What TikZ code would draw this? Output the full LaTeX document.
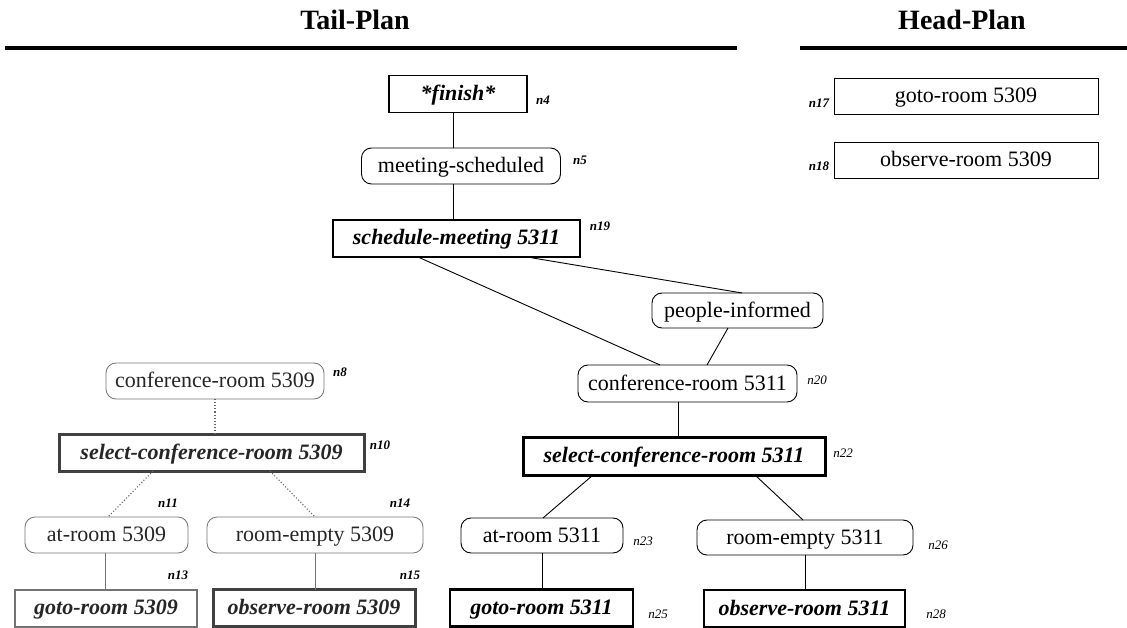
\documentclass[tikz,border=0pt]{standalone}
\usepackage{fontspec}
\setmainfont{Liberation Serif}
\newcommand{\plantxt}{\fontsize{22}{26}\selectfont}
\begin{document}
\begin{tikzpicture}[x=1pt,y=-1pt,
  every node/.style={inner sep=0pt, outer sep=0pt},
  centred/.style={text height=17pt, text depth=4pt},
  act/.style={draw, rectangle, centred, minimum height=37pt, font=\plantxt\bfseries\itshape},
  cond/.style={draw, rectangle, centred, rounded corners=10pt, line width=0.9pt, minimum height=36pt, font=\plantxt},
  headbox/.style={draw, rectangle, centred, line width=0.7pt, minimum height=36pt, font=\plantxt},
  lbl/.style={font=\fontsize{13}{15}\selectfont\bfseries\itshape},
  lbli/.style={font=\fontsize{13}{15}\selectfont\itshape},
  ttl/.style={font=\fontsize{28}{32}\selectfont\bfseries},
  faded/.style={draw=black!55, text=black!85},
  link/.style={line width=0.9pt},
  dlink/.style={dotted, line width=1.1pt, black!60},
  glink/.style={line width=0.8pt, black!55},
  rule/.style={line width=4pt}
]
\useasboundingbox (0,0) rectangle (1127,628);

% titles and rules
\node[ttl] (tailt) at (355,20) {Tail-Plan};
\node[ttl] (headt) at (962,20) {Head-Plan};
\coordinate (tl) at (5,48);
\coordinate (tr) at (737,48);
\coordinate (hl) at (800,48);
\coordinate (hr) at (1127,48);
\draw[rule] (tl) -- (tr);
\draw[rule] (hl) -- (hr);

% head plan
\node[headbox, minimum width=264pt] (n17) at (966,96) {goto-room 5309};
\node[headbox, minimum width=264pt] (n18) at (966,160) {observe-room 5309};
\node[lbl, anchor=east] (l17) at (829,103) {n17};
\node[lbl, anchor=east] (l18) at (829,166) {n18};

% tail plan, main branch
\node[act, line width=1.8pt, minimum width=138pt] (n4) at (458,94) {*finish*};
\node[cond, minimum width=199pt] (n5) at (461,166) {meeting-scheduled};
\node[act, line width=1.8pt, minimum width=247pt] (n19) at (456.5,238.5) {schedule-meeting 5311};
\node[cond, minimum width=171pt, minimum height=35pt] (npi) at (737.5,310.5) {people-informed};
\node[cond, minimum width=219pt, minimum height=37pt] (n20) at (687.5,383.5) {conference-room 5311};
\node[act, line width=3pt, minimum width=302pt, minimum height=38pt] (n22) at (674,456) {select-conference-room 5311};
\node[cond, minimum width=162pt, minimum height=35pt] (n23) at (542,535.5) {at-room 5311};
\node[cond, minimum width=216pt, minimum height=35pt] (n26) at (805,537.5) {room-empty 5311};
\node[act, line width=2.6pt, minimum width=183pt, minimum height=37pt] (n25) at (541.5,608) {goto-room 5311};
\node[act, line width=2.6pt, minimum width=201pt, minimum height=37pt] (n28) at (804.5,608.5) {observe-room 5311};

\node[lbl] (l4) at (543,100) {n4};
\node[lbl] (l5) at (580,160) {n5};
\node[lbl] (l19) at (600,226) {n19};
\node[lbli] (l20) at (817,380) {n20};
\node[lbli] (l22) at (843,453) {n22};
\node[lbli] (l23) at (643,541) {n23};
\node[lbli] (l26) at (938,545) {n26};
\node[lbli] (l25) at (658,614) {n25};
\node[lbli] (l28) at (936,614) {n28};

% tail plan, faded branch
\node[cond, faded, line width=0.8pt, minimum width=218pt] (n8) at (215,381) {conference-room 5309};
\node[act, faded, draw=black!75, line width=3pt, minimum width=305pt, minimum height=37pt] (n10) at (211.5,452.5) {select-conference-room 5309};
\node[cond, faded, line width=0.8pt, minimum width=163pt] (n11) at (106.5,535) {at-room 5309};
\node[cond, faded, line width=0.8pt, minimum width=216pt] (n14) at (315,535) {room-empty 5309};
\node[act, faded, line width=2pt, minimum width=182pt, minimum height=37pt] (n13) at (106,608) {goto-room 5309};
\node[act, faded, draw=black!75, line width=3pt, minimum width=202pt, minimum height=37pt] (n15) at (314,608) {observe-room 5309};

\node[lbl] (l8) at (340,372) {n8};
\node[lbl] (l10) at (380,445) {n10};
\node[lbl] (l11) at (168,503) {n11};
\node[lbl] (l14) at (400,503) {n14};
\node[lbl] (l13) at (178,575) {n13};
\node[lbl] (l15) at (410,575) {n15};

% connectors, main branch
\draw[link] ([xshift=-5pt]n4.south) -- ([xshift=-8pt]n5.north);
\draw[link] ([xshift=-8pt]n5.south) -- ([xshift=-3.5pt]n19.north);
\draw[link] ([xshift=-38.5pt]n19.south) -- ([xshift=-27.5pt]n20.north);
\draw[link] ([xshift=70.5pt]n19.south) -- ([xshift=4.5pt]npi.north);
\draw[link] ([xshift=-9.5pt]npi.south) -- ([xshift=19.5pt]n20.north);
\draw[link] ([xshift=-9.5pt]n20.south) -- ([xshift=4pt]n22.north);
\draw[link] ([xshift=-81pt]n22.south) -- ([xshift=1pt]n23.north);
\draw[link] ([xshift=81pt]n22.south) -- ([xshift=-2pt]n26.north);
\draw[link] (n23.south) -- ([xshift=0.5pt]n25.north);
\draw[link] (n26.south) -- ([xshift=0.5pt]n28.north);

% connectors, faded branch
\draw[dlink] (n8.south) -- ([xshift=3.5pt]n10.north);
\draw[dlink] ([xshift=-58.5pt]n10.south) -- ([xshift=1.5pt]n11.north);
\draw[dlink] ([xshift=58.5pt]n10.south) -- (n14.north);
\draw[glink] ([xshift=-1.5pt]n11.south) -- ([xshift=-1pt]n13.north);
\draw[glink] (n14.south) -- ([xshift=1pt]n15.north);
\end{tikzpicture}
\end{document}
